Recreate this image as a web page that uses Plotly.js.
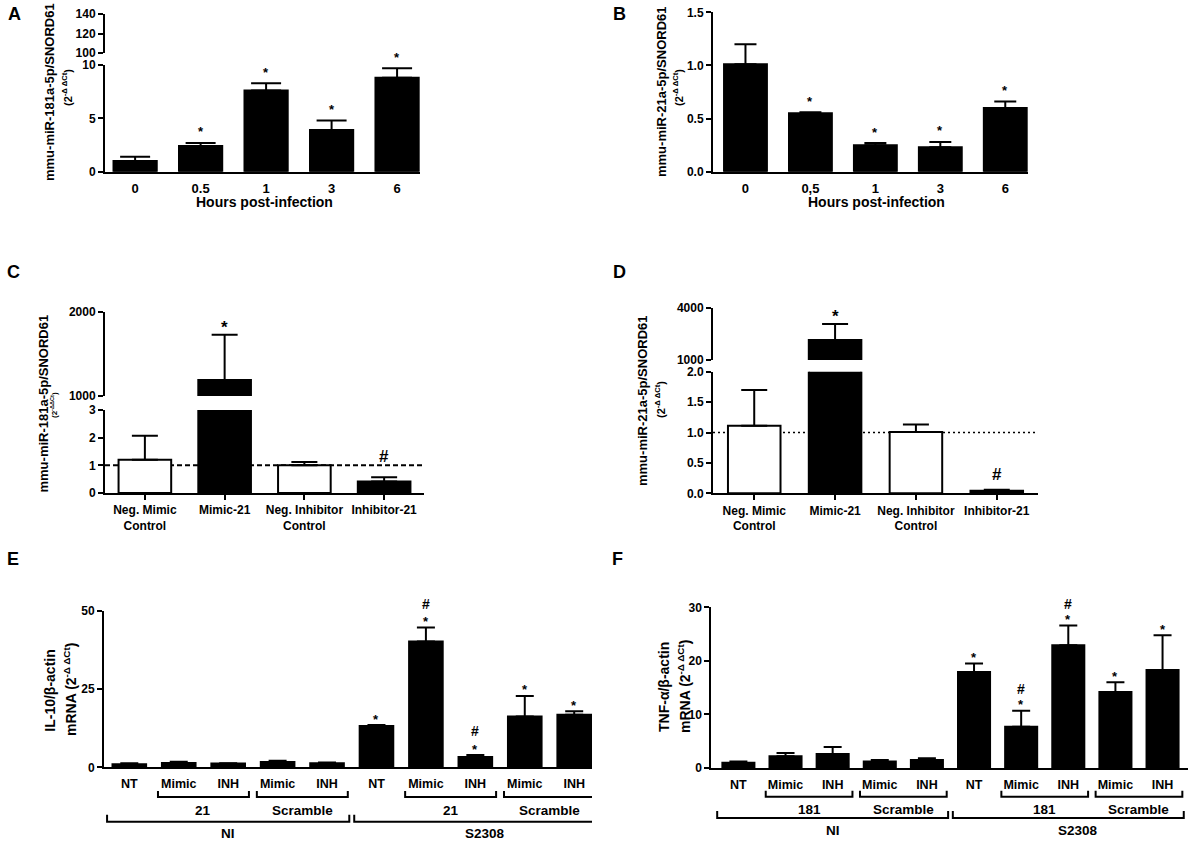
<!DOCTYPE html>
<html>
<head>
<meta charset="utf-8">
<script src="https://cdn.plot.ly/plotly-3.0.1.min.js"></script>
<style>
  html, body { margin: 0; padding: 0; background: #fff; }
  #fig { width: 1192px; height: 843px; }
</style>
</head>
<body>
<div id="fig"></div>
<script>
// ---- A: miR-181a after infection ----
var hoursA = ['0', '0.5', '1', '3', '6'];
var mir181A = [1.0, 2.4, 7.6, 3.9, 8.8];
var mir181AErr = [1.4, 2.7, 8.3, 4.8, 9.7];   // top of the SEM bar
var sigA = ['', '*', '*', '*', '*'];

// ---- B: miR-21 after infection ----
var hoursB = ['0', '0,5', '1', '3', '6'];
var mir21B = [1.01, 0.55, 0.25, 0.23, 0.60];
var mir21BErr = [1.20, 0.56, 0.27, 0.28, 0.66];
var sigB = ['', '*', '*', '*', '*'];

// ---- C / D: transfections ----
var transfections = ['Neg. Mimic<br>Control', 'Mimic-21', 'Neg. Inhibitor<br>Control', 'Inhibitor-21'];
var negControl = [true, false, true, false];
var mir181C = [1.2, 1190, 1.0, 0.42];
var mir181CErr = [2.07, 1730, 1.12, 0.57];
var sigC = ['', '*', '', '#'];
var mir21D = [1.11, 2150, 1.01, 0.04];
var mir21DErr = [1.70, 3060, 1.13, 0.06];
var sigD = ['', '*', '', '#'];

// ---- E / F: cytokines ----
var treatments = ['NT', 'Mimic', 'INH', 'Mimic', 'INH', 'NT', 'Mimic', 'INH', 'Mimic', 'INH'];
var il10 = [1.0, 1.4, 1.2, 1.7, 1.3, 13.2, 40.2, 3.3, 16.2, 16.8];
var il10Err = [1.3, 1.8, 1.3, 2.1, 1.5, 13.5, 44.6, 3.9, 22.8, 17.9];
var starE = [0, 0, 0, 0, 0, 1, 1, 1, 1, 1];
var hashE = [0, 0, 0, 0, 0, 0, 1, 1, 0, 0];
var tnf = [1.0, 2.2, 2.6, 1.2, 1.5, 17.9, 7.7, 22.9, 14.2, 18.3];
var tnfErr = [1.2, 2.8, 3.9, 1.5, 1.8, 19.5, 10.7, 26.6, 16.0, 24.8];
var starF = [0, 0, 0, 0, 0, 1, 1, 1, 1, 1];
var hashF = [0, 0, 0, 0, 0, 0, 1, 1, 0, 0];

var subGroupsE = ['21', 'Scramble', '21', 'Scramble'];
var subGroupsF = ['181', 'Scramble', '181', 'Scramble'];
var subFirst = [1, 3, 6, 8];
var subLast = [2, 4, 7, 9];
var infection = ['NI', 'S2308'];
var infFirst = [0, 5];
var infLast = [4, 9];

// ---- helpers ----
var W = 1192, H = 843;
function fx(p) { return p / W; }
function fy(p) { return 1 - p / H; }
var FONT = 'Liberation Sans, Arial, Helvetica, sans-serif';
function bold(size) { return {family: FONT, size: size, color: '#000', weight: 'bold'}; }

function xAxis(left, right, range, anchor, labels, size, visibleTicks) {
  return {
    domain: [fx(left), fx(right)], range: range, anchor: anchor,
    tickmode: 'array', tickvals: labels.map(function (_, i) { return i; }), ticktext: labels,
    showline: true, linecolor: '#000', linewidth: 2,
    ticks: 'outside', ticklen: visibleTicks ? 5 : 4, tickwidth: 2,
    tickcolor: visibleTicks ? '#000' : 'rgba(0,0,0,0)',
    showgrid: false, zeroline: false, fixedrange: true, tickfont: bold(size)
  };
}
function yAxis(bottom, top, range, anchor, ticks, fmt) {
  return {
    domain: [fy(bottom), fy(top)], range: range, anchor: anchor,
    tickmode: 'array', tickvals: ticks, tickformat: fmt || '',
    showline: true, linecolor: '#000', linewidth: 2,
    ticks: 'outside', ticklen: 5, tickwidth: 2, tickcolor: '#000',
    showgrid: false, zeroline: false, fixedrange: true, tickfont: bold(12)
  };
}
function bars(xa, ya, vals, errTop, fills, width, cap) {
  return {
    type: 'bar', xaxis: xa, yaxis: ya,
    x: vals.map(function (_, i) { return i; }), y: vals, width: width,
    marker: {color: fills, line: {color: '#000', width: 2}},
    error_y: {
      type: 'data', symmetric: false,
      array: errTop.map(function (e, i) { return e - vals[i]; }),
      arrayminus: vals.map(function () { return 0; }),
      color: '#000', thickness: 2, width: cap
    },
    hoverinfo: 'skip', showlegend: false
  };
}
function fills(flags) { return flags.map(function (c) { return c ? '#fff' : '#000'; }); }
var allBlack5 = hoursA.map(function () { return '#000'; });
var allBlack10 = treatments.map(function () { return '#000'; });

var annotations = [];
function note(text, x, y, size, extra) {
  var a = {text: text, x: x, y: y, xref: 'paper', yref: 'paper', showarrow: false,
           xanchor: 'center', yanchor: 'middle', font: bold(size)};
  for (var k in extra) a[k] = extra[k];
  annotations.push(a);
}
function mark(text, xa, ya, i, y, size, shift) {
  annotations.push({text: text, x: i, y: y, xref: xa, yref: ya, showarrow: false,
    xanchor: 'center', yanchor: 'middle', yshift: shift, font: bold(size)});
}

// ---- traces ----
var data = [
  bars('x', 'y', mir181A, mir181AErr, allBlack5, 0.66, 15),
  bars('x', 'y2', mir181A, mir181AErr, allBlack5, 0.66, 15),
  bars('x2', 'y3', mir21B, mir21BErr, allBlack5, 0.66, 11),
  bars('x3', 'y4', mir181C, mir181CErr, fills(negControl), 0.66, 13),
  bars('x3', 'y5', mir181C, mir181CErr, fills(negControl), 0.66, 13),
  bars('x4', 'y6', mir21D, mir21DErr, fills(negControl), 0.65, 13),
  bars('x4', 'y7', mir21D, mir21DErr, fills(negControl), 0.65, 13),
  bars('x5', 'y8', il10, il10Err, allBlack10, 0.68, 9),
  bars('x6', 'y9', tnf, tnfErr, allBlack10, 0.68, 9)
];

// ---- significance marks ----
sigA.forEach(function (s, i) { if (s) mark(s, 'x', 'y', i, mir181AErr[i], 13, 11); });
sigB.forEach(function (s, i) { if (s) mark(s, 'x2', 'y3', i, mir21BErr[i], 13, 11); });
sigC.forEach(function (s, i) {
  if (s) mark(s, 'x3', mir181CErr[i] > 3 ? 'y5' : 'y4', i, mir181CErr[i], 17, s === '*' ? 7 : 21);
});
sigD.forEach(function (s, i) {
  if (s) mark(s, 'x4', mir21DErr[i] > 2 ? 'y7' : 'y6', i, mir21DErr[i], 17, s === '*' ? 8 : 15);
});
treatments.forEach(function (_, i) {
  if (starE[i]) mark('*', 'x5', 'y8', i, il10Err[i], 13, 6);
  if (hashE[i]) mark('#', 'x5', 'y8', i, il10Err[i], 14, 24);
  if (starF[i]) mark('*', 'x6', 'y9', i, tnfErr[i], 13, 6);
  if (hashF[i]) mark('#', 'x6', 'y9', i, tnfErr[i], 14, 22);
});

// ---- grouping brackets under E and F ----
var shapes = [];
function bracket(xa, a, b, lineY, rise) {
  shapes.push({type: 'path', xref: xa, yref: 'paper',
    path: 'M' + a + ',' + fy(lineY - rise) + 'L' + a + ',' + fy(lineY) +
          'L' + b + ',' + fy(lineY) + 'L' + b + ',' + fy(lineY - rise),
    line: {color: '#000', width: 2}});
}
function groupLabels(xa, subNames, sub1Y, sub1Text, topY, topText) {
  subNames.forEach(function (name, k) {
    bracket(xa, subFirst[k] - 0.42, subLast[k] + 0.42, sub1Y, 6);
    annotations.push({text: name, x: (subFirst[k] + subLast[k]) / 2, y: fy(sub1Text),
      xref: xa, yref: 'paper', xanchor: 'center', yanchor: 'middle',
      showarrow: false, font: bold(13.5)});
  });
  infection.forEach(function (name, k) {
    bracket(xa, infFirst[k] - 0.45, infLast[k] + 0.45, topY, 7);
    annotations.push({text: name, x: (infFirst[k] + infLast[k]) / 2, y: fy(topText),
      xref: xa, yref: 'paper', xanchor: 'center', yanchor: 'middle',
      showarrow: false, font: bold(13.5), xshift: k ? 10 : 0});
  });
}
groupLabels('x5', subGroupsE, 797, 810, 821.7, 833);
groupLabels('x6', subGroupsF, 796.7, 809, 818, 830.7);

// reference lines at 1 in C and D
shapes.push({type: 'line', xref: 'x3 domain', x0: 0, x1: 1, yref: 'y4', y0: 1, y1: 1,
  line: {color: '#000', width: 2, dash: '5px,3px'}, layer: 'below'});
shapes.push({type: 'line', xref: 'x4 domain', x0: 0, x1: 1, yref: 'y6', y0: 1, y1: 1,
  line: {color: '#000', width: 1.5, dash: '2px,3px'}, layer: 'below'});

// ---- panel letters and titles ----
note('A', fx(14), fy(14), 18);
note('B', fx(619), fy(14), 18);
note('C', fx(13), fy(272), 18);
note('D', fx(619), fy(272), 18);
note('E', fx(12.5), fy(559), 18);
note('F', fx(618), fy(559), 18);

var rot = {textangle: -90};
note('mmu-miR-181a-5p/SNORD61', fx(50), fy(92), 13, rot);
note('(2<sup>-Δ ΔCt</sup>)', fx(67), fy(88), 11, rot);
note('mmu-miR-21a-5p/SNORD61', fx(662), fy(91), 13, rot);
note('(2<sup>-Δ ΔCt</sup>)', fx(678), fy(88), 11, rot);
note('mmu-miR-181a-5p/SNORD61', fx(42.5), fy(404), 13, rot);
note('(2<sup>-ΔΔCt</sup>)', fx(54), fy(405), 8, rot);
note('mmu-miR-21a-5p/SNORD61', fx(642), fy(401), 13, rot);
note('(2<sup>-Δ ΔCt</sup>)', fx(660), fy(400), 11, rot);
note('IL-10/β-actin', fx(49.7), fy(691), 14, rot);
note('mRNA (2<sup>-Δ ΔCt</sup>)', fx(70), fy(690), 14, rot);
note('TNF-α/β-actin', fx(664), fy(687), 14, rot);
note('mRNA (2<sup>-Δ ΔCt</sup>)', fx(684), fy(687), 14, rot);

note('Hours post-infection', fx(264.5), fy(201.7), 14);
note('Hours post-infection', fx(876), fy(201.7), 14);

// ---- layout ----
var layout = {
  width: W, height: H, autosize: false,
  margin: {l: 0, r: 0, t: 0, b: 0, pad: 0},
  paper_bgcolor: '#fff', plot_bgcolor: 'rgba(0,0,0,0)',
  font: bold(12), showlegend: false, bargap: 0,
  xaxis: xAxis(105, 420, [-0.46, 4.35], 'y', hoursA, 13, false),
  yaxis: yAxis(171.7, 65, [0, 10], 'x', [0, 5, 10]),
  yaxis2: yAxis(53, 14, [100, 140], 'x', [100, 120, 140]),
  xaxis2: xAxis(713, 1028, [-0.5, 4.35], 'y3', hoursB, 13, false),
  yaxis3: yAxis(171.7, 12.3, [0, 1.5], 'x2', [0, 0.5, 1, 1.5], '.1f'),
  xaxis3: xAxis(105, 424, [-0.5, 3.5], 'y4', transfections, 12, true),
  yaxis4: yAxis(493, 410, [0, 3], 'x3', [0, 1, 2, 3]),
  yaxis5: yAxis(396, 312, [1000, 2000], 'x3', [1000, 2000]),
  xaxis4: xAxis(713, 1038, [-0.51, 3.51], 'y6', transfections, 12, true),
  yaxis6: yAxis(493.3, 371.7, [0, 2], 'x4', [0, 0.5, 1, 1.5, 2], '.1f'),
  yaxis7: yAxis(360, 307.7, [1000, 4000], 'x4', [1000, 4000]),
  xaxis5: xAxis(104.1, 592, [-0.51, 9.36], 'y8', treatments, 12.5, false),
  yaxis8: yAxis(767.3, 610.7, [0, 50], 'x5', [0, 25, 50]),
  xaxis6: xAxis(711.3, 1188, [-0.575, 9.54], 'y9', treatments, 12.5, false),
  yaxis9: yAxis(768, 607.3, [0, 30], 'x6', [0, 10, 20, 30]),
  shapes: shapes,
  annotations: annotations
};

Plotly.newPlot('fig', data, layout, {staticPlot: true, displayModeBar: false});
</script>
</body>
</html>
